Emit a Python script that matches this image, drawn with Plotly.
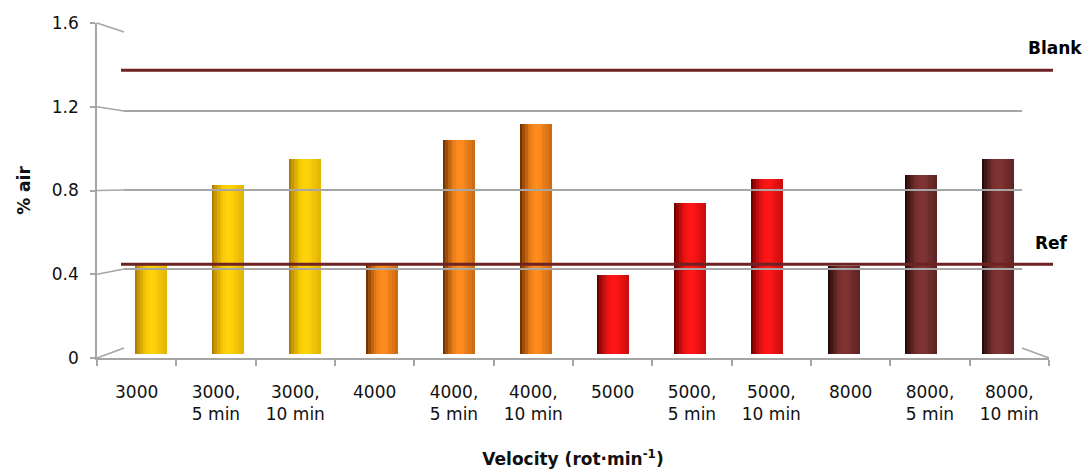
import plotly.graph_objects as go

# ---------------- data ----------------
categories = ["3000", "3000, 5 min", "3000, 10 min",
              "4000", "4000, 5 min", "4000, 10 min",
              "5000", "5000, 5 min", "5000, 10 min",
              "8000", "8000, 5 min", "8000, 10 min"]
tick_labels = ["3000", "3000,<br>5 min", "3000,<br>10 min",
               "4000", "4000,<br>5 min", "4000,<br>10 min",
               "5000", "5000,<br>5 min", "5000,<br>10 min",
               "8000", "8000,<br>5 min", "8000,<br>10 min"]
air_pct = [0.45, 0.83, 0.96, 0.44, 1.05, 1.13, 0.39, 0.74, 0.86, 0.435, 0.88, 0.96]
speed_group = ["3000", "3000", "3000", "4000", "4000", "4000",
               "5000", "5000", "5000", "8000", "8000", "8000"]
blank_level = 1.39
ref_level = 0.44
y_ticks = [0, 0.4, 0.8, 1.2, 1.6]
y_max = 1.6

# ---------------- styles ----------------
W, H = 1088, 472
FONT = "DejaVu Sans"
GRID = "#A6A6A6"
LINE_RED = "#6E2222"

group_colors = {
    "3000": ((176, 126, 0), (255, 212, 8)),
    "4000": ((118, 52, 0), (255, 140, 30)),
    "5000": ((112, 0, 0), (255, 22, 22)),
    "8000": ((36, 10, 10), (128, 52, 50)),
}
# shading across the cylinder (0 = dark edge colour, 1 = highlight)
profile = [0.0, 0.3, 0.55, 0.75, 0.88, 0.97, 1.0, 0.97, 0.9, 0.82, 0.74, 0.64]
bar_width = 0.41


def mix(c0, c1, t):
    return "rgb(%d,%d,%d)" % tuple(round(a + (b - a) * t) for a, b in zip(c0, c1))


def px(x):
    return x / W


def py(y):
    return 1 - y / H


# pixel frames of the pseudo-3D chart: front plane, bar plane, back wall
X_FRONT, Y_FRONT = (97, 1049), (358, 23)
X_MID, Y_MID = (111.5, 1035.5), (354, 27.5)
X_BACK, Y_BACK = (124, 1022), (348, 32)

fig = go.Figure()

# invisible trace to build the front category axis
fig.add_trace(go.Scatter(x=categories, y=air_pct, mode="markers",
                         marker=dict(opacity=0), hoverinfo="skip",
                         showlegend=False, xaxis="x", yaxis="y"))
# invisible trace for the back-wall subplot
fig.add_trace(go.Scatter(x=categories, y=air_pct, mode="markers",
                         marker=dict(opacity=0), hoverinfo="skip",
                         showlegend=False, xaxis="x3", yaxis="y3"))

# cylinder bars drawn as shaded vertical strips
n = len(profile)
strip = bar_width / n
for i, t in enumerate(profile):
    cols = [mix(group_colors[g][0], group_colors[g][1], t) for g in speed_group]
    fig.add_trace(go.Bar(
        x=categories, y=air_pct, xaxis="x2", yaxis="y2",
        width=strip * 1.08, offset=-bar_width / 2 + i * strip,
        marker=dict(color=cols, line=dict(width=0)),
        showlegend=False, hoverinfo="skip" if i else "x+y",
    ))

shapes = []
# perspective connectors between front tick and back-wall gridline
for v in y_ticks:
    yf = Y_FRONT[0] + (Y_FRONT[1] - Y_FRONT[0]) * v / y_max
    yb = Y_BACK[0] + (Y_BACK[1] - Y_BACK[0]) * v / y_max
    shapes.append(dict(type="line", xref="paper", yref="paper",
                       x0=px(X_FRONT[0]), y0=py(yf), x1=px(X_BACK[0]), y1=py(yb),
                       line=dict(color=GRID, width=1.6), layer="below"))
# right floor edge
shapes.append(dict(type="line", xref="paper", yref="paper",
                   x0=px(X_BACK[1]), y0=py(Y_BACK[0]), x1=px(X_FRONT[1]), y1=py(Y_FRONT[0]),
                   line=dict(color=GRID, width=1.6), layer="below"))
# reference lines
for lvl in (blank_level, ref_level):
    shapes.append(dict(type="line", xref="paper", yref="y2",
                       x0=px(121), x1=px(1053), y0=lvl, y1=lvl,
                       line=dict(color=LINE_RED, width=3), layer="above"))

annotations = [
    dict(text="<b>Blank</b>", xref="paper", yref="y2", x=px(1055), y=blank_level,
         xanchor="center", yanchor="middle", yshift=22.5, showarrow=False,
         font=dict(family=FONT, size=17, color="#000")),
    dict(text="<b>Ref</b>", xref="paper", yref="y2", x=px(1051), y=ref_level,
         xanchor="center", yanchor="middle", yshift=21, showarrow=False,
         font=dict(family=FONT, size=17, color="#000")),
]

fig.update_layout(
    width=W, height=H,
    margin=dict(l=0, r=0, t=0, b=0, autoexpand=False),
    paper_bgcolor="white", plot_bgcolor="rgba(0,0,0,0)",
    barmode="overlay", bargap=0,
    showlegend=False,
    font=dict(family=FONT, size=17, color="#111"),
    shapes=shapes, annotations=annotations,
    xaxis=dict(domain=[px(X_FRONT[0]), px(X_FRONT[1])], anchor="y",
               type="category", categoryorder="array", categoryarray=categories,
               range=[-0.5, len(categories) - 0.5],
               tickvals=categories, ticktext=tick_labels,
               ticks="outside", tickson="boundaries", ticklen=6,
               tickcolor=GRID, tickwidth=1.6,
               showline=True, linecolor=GRID, linewidth=1.6,
               showgrid=False, zeroline=False, ticklabelstandoff=18,
               automargin=False,
               tickfont=dict(family=FONT, size=17, color="#111"),
               title=dict(text="<b>Velocity (rot·min<sup>-1</sup>)</b>",
                          font=dict(family=FONT, size=17, color="#111"), standoff=30)),
    yaxis=dict(domain=[py(Y_FRONT[0]), py(Y_FRONT[1])], anchor="x",
               range=[0, y_max], tickvals=y_ticks,
               ticks="outside", ticklen=5, tickcolor=GRID, tickwidth=1.6,
               showline=True, linecolor=GRID, linewidth=1.6,
               showgrid=False, zeroline=False, ticklabelstandoff=8,
               automargin=False,
               tickfont=dict(family=FONT, size=17, color="#111"),
               title=dict(text="<b>% air</b>",
                          font=dict(family=FONT, size=17, color="#111"), standoff=17)),
    xaxis2=dict(domain=[px(X_MID[0]), px(X_MID[1])], anchor="y2",
                type="category", categoryorder="array", categoryarray=categories,
                range=[-0.5, len(categories) - 0.5], visible=False, automargin=False),
    yaxis2=dict(domain=[py(Y_MID[0]), py(Y_MID[1])], anchor="x2",
                range=[0, y_max], visible=False, automargin=False),
    xaxis3=dict(domain=[px(X_BACK[0]), px(X_BACK[1])], anchor="y3",
                type="category", categoryorder="array", categoryarray=categories,
                range=[-0.5, len(categories) - 0.5], visible=False, automargin=False),
    yaxis3=dict(domain=[py(Y_BACK[0]), py(Y_BACK[1])], anchor="x3",
                range=[0, y_max], tickvals=y_ticks, showticklabels=False,
                ticks="", showline=False, zeroline=False, automargin=False,
                showgrid=True, gridcolor=GRID, gridwidth=1.6),
)

fig.write_html("out.html")
